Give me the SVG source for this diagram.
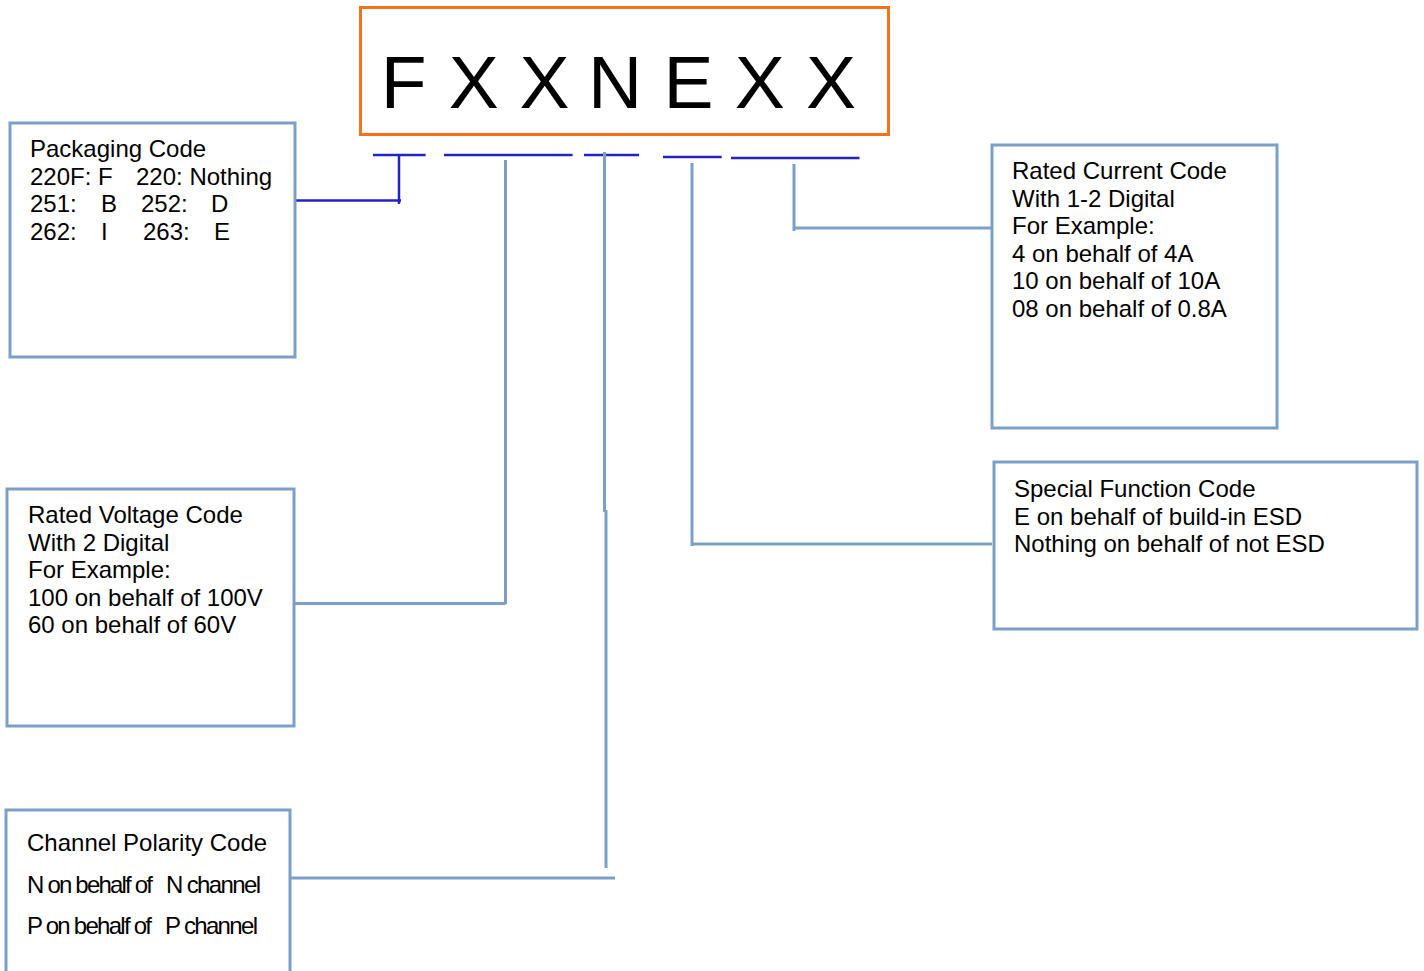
<svg xmlns="http://www.w3.org/2000/svg" width="1424" height="971" viewBox="0 0 1424 971">
<style>
.box{fill:#fff;stroke:#7C9FC8;stroke-width:3}
.lb{fill:none;stroke:#7C9FC8;stroke-width:3}
.db{fill:none;stroke:#2323C2;stroke-width:2.5}
text{font-family:"Liberation Sans",Arial,sans-serif;font-size:24px;fill:#000}
</style>
<rect width="1424" height="971" fill="#fff"/>
<g id="code">
<rect x="360.5" y="7.5" width="528" height="127" fill="#fff" stroke="#F8701A" stroke-width="3"/>
<text x="380.8 448.7 519.6 587.9 663.5 734.8 806.1" y="108" style="font-size:75px">FXXNEXX</text>
</g>
<g id="connectors">
<path class="db" d="M373 155H425.6M444 155H572.6M584 155H639M663 157H721.7M731 158H859.5"/>
<path class="db" d="M399 155V204M295 200.5H401"/>
<path class="lb" d="M505.5 160V604M294 603.5H505.5"/>
<path class="lb" d="M604.5 152V512M606 510V868M290 878H615"/>
<path class="lb" d="M692 163V546M692 544H992"/>
<path class="lb" d="M794 164V231M794 228H992"/>
</g>
<g id="packaging">
<rect class="box" x="10" y="123" width="285" height="234"/>
<text x="30" y="157">Packaging Code</text>
<text y="184.5"><tspan x="30">220F: F</tspan><tspan x="136">220: Nothing</tspan></text>
<text y="212"><tspan x="30">251:</tspan><tspan x="101">B</tspan><tspan x="141">252:</tspan><tspan x="211">D</tspan></text>
<text y="239.5"><tspan x="30">262:</tspan><tspan x="101">I</tspan><tspan x="143">263:</tspan><tspan x="214">E</tspan></text>
</g>
<g id="voltage">
<rect class="box" x="7" y="489" width="287" height="237"/>
<text x="28" y="523">Rated Voltage Code</text>
<text x="28" y="550.5">With 2 Digital</text>
<text x="28" y="578">For Example:</text>
<text x="28" y="605.5">100 on behalf of 100V</text>
<text x="28" y="633">60 on behalf of 60V</text>
</g>
<g id="polarity">
<rect class="box" x="6" y="810" width="284" height="175"/>
<text x="27" y="851">Channel Polarity Code</text>
<text x="27" y="893" textLength="125" lengthAdjust="spacing" letter-spacing="-1">N on behalf of</text>
<text x="166" y="893" textLength="94" lengthAdjust="spacing" letter-spacing="-1">N channel</text>
<text x="27" y="934" textLength="124" lengthAdjust="spacing" letter-spacing="-1">P on behalf of</text>
<text x="165" y="934" textLength="92" lengthAdjust="spacing" letter-spacing="-1">P channel</text>
</g>
<g id="current">
<rect class="box" x="992" y="145" width="285" height="283"/>
<text x="1012" y="179">Rated Current Code</text>
<text x="1012" y="206.5">With 1-2 Digital</text>
<text x="1012" y="234">For Example:</text>
<text x="1012" y="261.5">4 on behalf of 4A</text>
<text x="1012" y="289">10 on behalf of 10A</text>
<text x="1012" y="316.5">08 on behalf of 0.8A</text>
</g>
<g id="special">
<rect class="box" x="994" y="462" width="423" height="167"/>
<text x="1014" y="497">Special Function Code</text>
<text x="1014" y="524.5">E on behalf of build-in ESD</text>
<text x="1014" y="552">Nothing on behalf of not ESD</text>
</g>
</svg>
